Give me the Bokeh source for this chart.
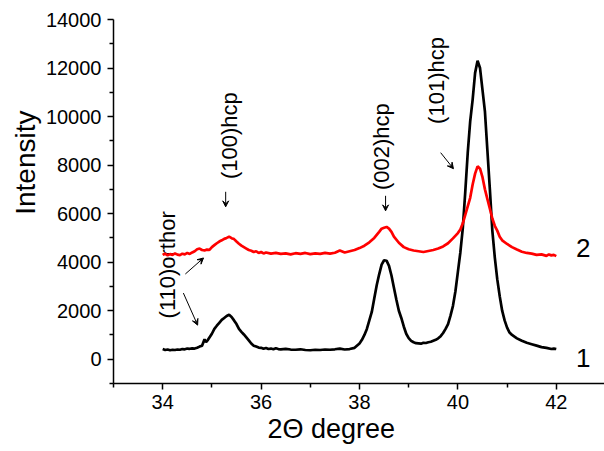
from bokeh.plotting import figure
from bokeh.models import Range1d, FixedTicker, Label, Arrow, VeeHead, Title
from bokeh.embed import file_html
from bokeh.resources import INLINE
import math

# ---- data ----
x1 = [34.00, 34.05, 34.10, 34.15, 34.20, 34.25, 34.30, 34.35, 34.40, 34.45, 34.50, 34.55, 34.60, 34.65, 34.70, 34.75,
      34.80, 34.85, 34.88, 34.92, 35.00, 35.05, 35.10, 35.15, 35.20, 35.25, 35.30, 35.35, 35.40, 35.45, 35.50, 35.55,
      35.60, 35.65, 35.70, 35.75, 35.80, 35.85, 35.90, 35.95, 36.00, 36.05, 36.10, 36.15, 36.20, 36.25, 36.30, 36.35,
      36.40, 36.50, 36.60, 36.70, 36.80, 36.90, 37.00, 37.10, 37.20, 37.30, 37.40, 37.50, 37.60, 37.70, 37.80, 37.90,
      38.00, 38.05, 38.10, 38.15, 38.20, 38.25, 38.30, 38.35, 38.40, 38.45, 38.50, 38.55, 38.60, 38.65, 38.70, 38.75,
      38.80, 38.85, 38.90, 38.95, 39.00, 39.05, 39.10, 39.15, 39.20, 39.25, 39.30, 39.35, 39.40, 39.45, 39.50, 39.55,
      39.60, 39.65, 39.70, 39.75, 39.80, 39.85, 39.90, 39.95, 40.00, 40.05, 40.10, 40.15, 40.20, 40.25, 40.30, 40.35,
      40.40, 40.45, 40.50, 40.55, 40.60, 40.65, 40.70, 40.75, 40.80, 40.85, 40.90, 40.95, 41.00, 41.05, 41.10, 41.20,
      41.30, 41.40, 41.50, 41.60, 41.70, 41.80, 41.90, 41.95, 42.00]
y1 = [420, 380, 400, 370, 390, 380, 400, 390, 420, 410, 440, 430, 450, 440, 470, 520,
      560, 820, 700, 800, 1050, 1250, 1380, 1500, 1620, 1700, 1780, 1830, 1740, 1600, 1450, 1250,
      1130, 1020, 900, 780, 650, 560, 520, 480, 470, 430, 460, 420, 440, 410, 450, 420,
      410, 430, 400, 390, 410, 380, 370, 390, 380, 400, 390, 410, 440, 400, 420, 470,
      650, 800, 1000, 1250, 1600, 1950, 2500, 3050, 3500, 3900, 4080, 4060, 3850, 3450, 2950, 2450,
      2000, 1700, 1350, 1050, 870, 760, 700, 660, 650, 640, 680, 670, 700, 720, 760, 800,
      860, 950, 1080, 1250, 1450, 1800, 2200, 2800, 3600, 4400, 5400, 6900, 8500, 9800, 10700, 11800,
      12300, 12000, 11100, 10200, 8600, 7000, 5300, 4200, 3300, 2600, 2000, 1600, 1300, 1100, 1000, 860,
      760, 680, 620, 560, 500, 470, 420, 440, 420]

x2 = [34.00, 34.05, 34.10, 34.15, 34.20, 34.25, 34.30, 34.35, 34.40, 34.45, 34.50, 34.55, 34.60, 34.65, 34.70, 34.75,
      34.80, 34.85, 34.90, 34.95, 35.00, 35.05, 35.10, 35.15, 35.20, 35.25, 35.30, 35.35, 35.40, 35.45, 35.50, 35.55,
      35.60, 35.65, 35.70, 35.75, 35.80, 35.85, 35.90, 35.95, 36.00, 36.05, 36.10, 36.20, 36.30, 36.40, 36.50, 36.60,
      36.70, 36.80, 36.90, 37.00, 37.10, 37.20, 37.30, 37.40, 37.50, 37.60, 37.70, 37.80, 37.90, 38.00, 38.10, 38.20,
      38.30, 38.40, 38.45, 38.50, 38.55, 38.60, 38.65, 38.70, 38.80, 38.90, 39.00, 39.10, 39.20, 39.30, 39.40, 39.50,
      39.60, 39.70, 39.80, 39.90, 40.00, 40.05, 40.10, 40.15, 40.20, 40.25, 40.30, 40.35, 40.40, 40.45, 40.50, 40.55,
      40.60, 40.65, 40.70, 40.75, 40.80, 40.85, 40.90, 41.00, 41.10, 41.20, 41.30, 41.40, 41.50, 41.60, 41.70, 41.80,
      41.85, 41.90, 41.95, 42.00]
y2 = [4300, 4350, 4280, 4330, 4300, 4360, 4310, 4290, 4350, 4320, 4380, 4340, 4400, 4450, 4530, 4560,
      4500, 4480, 4520, 4510, 4620, 4700, 4780, 4850, 4900, 4960, 5000, 5050, 4990, 4950, 4850, 4760,
      4680, 4620, 4560, 4500, 4470, 4420, 4450, 4380, 4420, 4360, 4400, 4350, 4380, 4340, 4360, 4320,
      4370, 4340, 4380, 4330, 4360, 4340, 4380, 4350, 4390, 4480, 4400, 4450, 4500, 4580, 4680, 4820,
      5000, 5250, 5380, 5420, 5450, 5380, 5250, 5050, 4800, 4620, 4530, 4480, 4450, 4420, 4460, 4500,
      4560, 4650, 4780, 4980, 5200, 5350, 5600, 5950, 6300, 6650, 7200, 7650, 7950, 7850, 7500, 7000,
      6600, 6200, 5800, 5500, 5300, 5050, 4900, 4750, 4620, 4520, 4430, 4380, 4350, 4300, 4320, 4260,
      4320, 4280, 4300, 4250]

x_ticks = [34, 36, 38, 40, 42]
y_ticks = [0, 2000, 4000, 6000, 8000, 10000, 12000, 14000]

FONT = "Liberation Sans"

p = figure(width=604, height=451, output_backend="svg", toolbar_location=None,
           x_range=Range1d(33, 42.98), y_range=Range1d(-1000, 14000),
           min_border_left=113, min_border_right=0, min_border_top=19, min_border_bottom=68)
p.outline_line_color = None
p.grid.visible = False
p.background_fill_color = "white"
p.border_fill_color = "white"

for ax in (p.xaxis[0], p.yaxis[0]):
    ax.major_label_text_font = FONT
    ax.major_label_text_font_size = "20px"
    ax.major_label_text_color = "black"
    ax.axis_line_color = "black"
    ax.axis_line_width = 1.5
    ax.major_tick_line_color = "black"
    ax.minor_tick_line_color = "black"
    ax.major_tick_line_width = 1.5
    ax.minor_tick_line_width = 1.5
    ax.major_tick_out = 6
    ax.major_tick_in = 0
    ax.minor_tick_out = 4
    ax.minor_tick_in = 0
    ax.axis_label = None

p.xaxis[0].ticker = FixedTicker(ticks=x_ticks, minor_ticks=[33, 35, 37, 39, 41])
p.yaxis[0].ticker = FixedTicker(ticks=y_ticks, minor_ticks=[-1000, 1000, 3000, 5000, 7000, 9000, 11000, 13000])
p.xaxis[0].major_label_standoff = 5
p.yaxis[0].major_label_standoff = 6

# annotation texts (drawn under the curves)
ann_text = ["(100)hcp", "(002)hcp", "(101)hcp", "(110)orthor"]
ann_x = [35.36, 38.45, 39.57, 34.10]
ann_y = [9215, 8760, 11487, 3890]
p.text(x=ann_x, y=ann_y, text=ann_text, angle=math.pi / 2, text_align="center",
       text_baseline="middle", text_font_size="22px", text_color="black",
       text_font={"value": FONT})

p.line(x1, y1, line_color="black", line_width=2.7)
p.line(x2, y2, line_color="#ff0000", line_width=2.7)

# arrows
arrows = [((35.28, 6900), (35.28, 6280)),
          ((38.53, 6735), (38.53, 6115)),
          ((39.65, 8512), (39.91, 7851)),
          ((34.46, 3512), (34.83, 4173)),
          ((34.42, 2727), (34.71, 1405))]
for (xs, ys), (xe, ye) in arrows:
    p.add_layout(Arrow(x_start=xs, y_start=ys, x_end=xe, y_end=ye, line_width=1, line_color="black",
                       end=VeeHead(size=6, fill_color="black", line_color="black")))

# curve numbers
p.add_layout(Label(x=42.55, y=4586, text="2", text_font=FONT, text_font_size="26px", text_color="black",
                   text_align="center", text_baseline="middle"))
p.add_layout(Label(x=42.55, y=40, text="1", text_font=FONT, text_font_size="26px", text_color="black",
                   text_align="center", text_baseline="middle"))

# axis titles
p.add_layout(Title(text="Intensity", text_font=FONT, text_font_size="28px", text_font_style="normal",
                   text_color="black", align="right", offset=91, standoff=4), "left")
p.add_layout(Title(text="2\u0398 degree", text_font=FONT, text_font_size="27px", text_font_style="normal",
                   text_color="black", align="left", offset=154, standoff=0), "below")

open("out.html", "w").write(file_html(p, INLINE))
